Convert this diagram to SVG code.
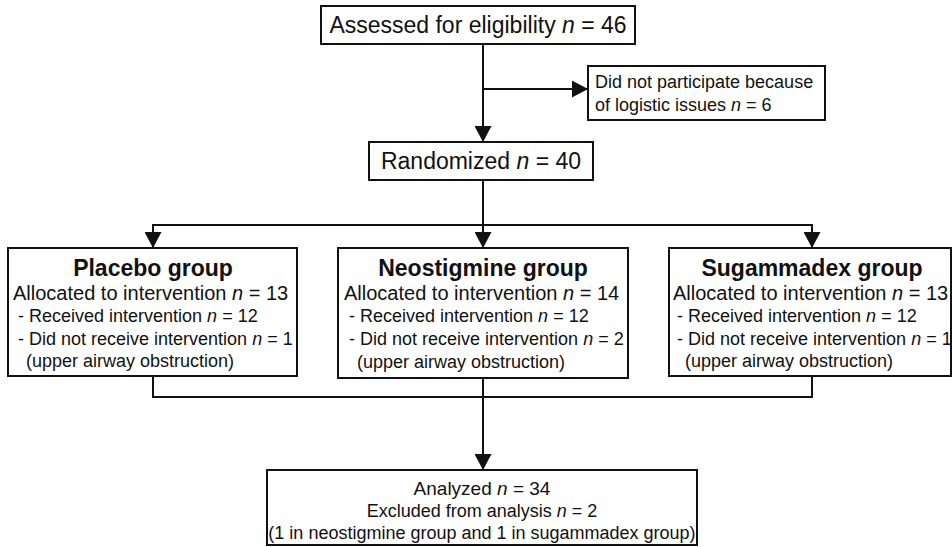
<svg xmlns="http://www.w3.org/2000/svg" width="952" height="547" viewBox="0 0 952 547">
<style>
  .box { fill: #ffffff; stroke: #111111; stroke-width: 2; }
  .conn { fill: none; stroke: #111111; stroke-width: 2; }
  text { font-family: "Liberation Sans", Arial, Helvetica, sans-serif; fill: #111111; }
  .big { font-size: 23px; }
  .body { font-size: 20px; }
  .sub { font-size: 18px; }
  .title { font-size: 23px; font-weight: bold; }
  .i { font-style: italic; }
</style>
<defs>
  <marker id="arrow" viewBox="0 0 16 17" refX="16" refY="8.5" markerWidth="16" markerHeight="17" orient="auto" markerUnits="userSpaceOnUse">
    <path d="M0,0 L16,8.5 L0,17 z" fill="#111111"/>
  </marker>
</defs>

<g id="connectors">
  <line class="conn" x1="483" y1="44" x2="483" y2="142" marker-end="url(#arrow)"/>
  <line class="conn" x1="483" y1="89" x2="588" y2="89" marker-end="url(#arrow)"/>
  <line class="conn" x1="483" y1="180" x2="483" y2="225"/>
  <line class="conn" x1="153" y1="225" x2="812" y2="225"/>
  <line class="conn" x1="153" y1="224" x2="153" y2="248" marker-end="url(#arrow)"/>
  <line class="conn" x1="483" y1="224" x2="483" y2="248" marker-end="url(#arrow)"/>
  <line class="conn" x1="812" y1="224" x2="812" y2="248" marker-end="url(#arrow)"/>
  <line class="conn" x1="153" y1="376" x2="153" y2="398"/>
  <line class="conn" x1="483" y1="378" x2="483" y2="398"/>
  <line class="conn" x1="812" y1="376" x2="812" y2="398"/>
  <line class="conn" x1="152" y1="397" x2="813" y2="397"/>
  <line class="conn" x1="483" y1="397" x2="483" y2="470" marker-end="url(#arrow)"/>
</g>

<g id="assessed">
  <rect class="box" x="321" y="6" width="314" height="38"/>
  <text class="big" x="478" y="33" text-anchor="middle">Assessed for eligibility <tspan class="i">n</tspan> = 46</text>
</g>

<g id="excluded">
  <rect class="box" x="588" y="66" width="237" height="54"/>
  <text class="sub" x="595" y="88">Did not participate because</text>
  <text class="sub" x="595" y="111">of logistic issues <tspan class="i">n</tspan> = 6</text>
</g>

<g id="randomized">
  <rect class="box" x="369" y="142" width="224" height="38"/>
  <text class="big" x="481" y="169" text-anchor="middle">Randomized <tspan class="i">n</tspan> = 40</text>
</g>

<g id="placebo">
  <rect class="box" x="8" y="248" width="289" height="128"/>
  <text class="title" x="153" y="276" text-anchor="middle">Placebo group</text>
  <text class="body" x="13" y="300">Allocated to intervention <tspan class="i">n</tspan> = 13</text>
  <text class="sub" x="18" y="322">- Received intervention <tspan class="i">n</tspan> = 12</text>
  <text class="sub" x="18" y="345">- Did not receive intervention <tspan class="i">n</tspan> = 1</text>
  <text class="sub" x="26" y="367">(upper airway obstruction)</text>
</g>

<g id="neostigmine">
  <rect class="box" x="338" y="248" width="290" height="130"/>
  <text class="title" x="483" y="276" text-anchor="middle">Neostigmine group</text>
  <text class="body" x="344" y="300">Allocated to intervention <tspan class="i">n</tspan> = 14</text>
  <text class="sub" x="349" y="322">- Received intervention <tspan class="i">n</tspan> = 12</text>
  <text class="sub" x="349" y="345">- Did not receive intervention <tspan class="i">n</tspan> = 2</text>
  <text class="sub" x="357" y="368">(upper airway obstruction)</text>
</g>

<g id="sugammadex">
  <rect class="box" x="669" y="248" width="282" height="128"/>
  <text class="title" x="812" y="276" text-anchor="middle">Sugammadex group</text>
  <text class="body" x="673" y="300">Allocated to intervention <tspan class="i">n</tspan> = 13</text>
  <text class="sub" x="677" y="322">- Received intervention <tspan class="i">n</tspan> = 12</text>
  <text class="sub" x="677" y="345">- Did not receive intervention <tspan class="i">n</tspan> = 1</text>
  <text class="sub" x="685" y="367">(upper airway obstruction)</text>
</g>

<g id="analyzed">
  <rect class="box" x="267" y="470" width="430" height="75"/>
  <text x="482" y="495" text-anchor="middle" font-size="19">Analyzed <tspan class="i">n</tspan> = 34</text>
  <text class="sub" x="482" y="517" text-anchor="middle">Excluded from analysis <tspan class="i">n</tspan> = 2</text>
  <text class="sub" x="482" y="539" text-anchor="middle">(1 in neostigmine group and 1 in sugammadex group)</text>
</g>
</svg>
